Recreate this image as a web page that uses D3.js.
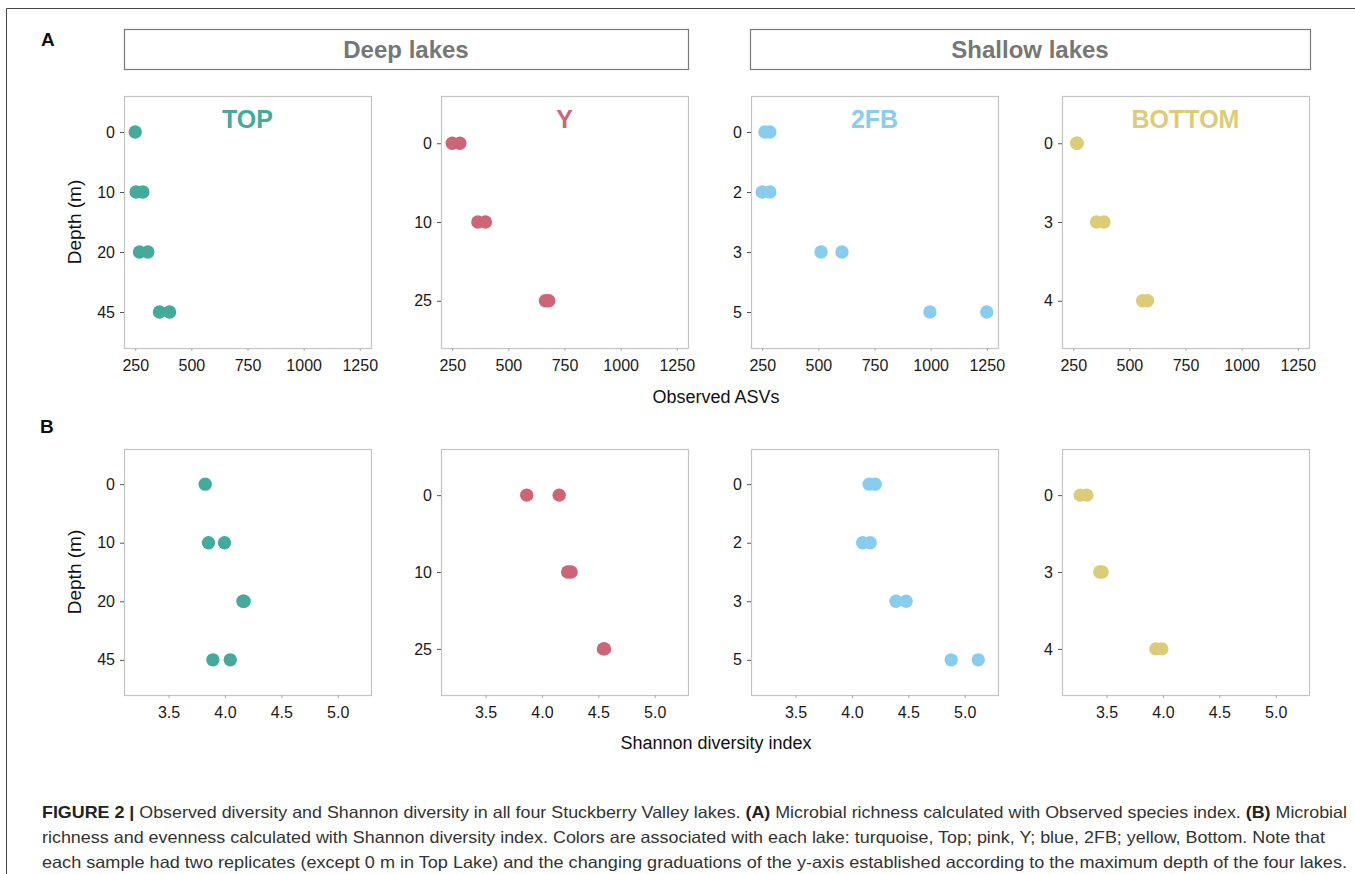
<!DOCTYPE html>
<html><head><meta charset="utf-8">
<script src="https://cdn.jsdelivr.net/npm/d3@7"></script>
<style>
html,body{margin:0;padding:0;background:#fff;}
svg{display:block;font-family:"Liberation Sans",Arial,sans-serif;}
</style></head>
<body>
<svg id="chart" width="1355" height="874"></svg>
<script>
// ---------- DATA ----------
const lakes = ["TOP", "Y", "2FB", "BOTTOM"];
const lakeColors = ["#44AA99", "#CC6677", "#88CCEE", "#DDCC77"];
const groupLabels = ["Deep lakes", "Shallow lakes"];

const topLevels = ["0", "10", "20", "45"];
const topDepth = ["0", "10", "10", "20", "20", "45", "45"];
const topObserved = [250, 254, 284, 269, 306, 358, 403];
const topShannon = [3.825, 3.854, 3.996, 4.16, 4.17, 3.893, 4.047];

const yLevels = ["0", "10", "25"];
const yDepth = ["0", "0", "10", "10", "25", "25"];
const yObserved = [250, 284, 364, 398, 665, 680];
const yShannon = [3.865, 4.153, 4.228, 4.258, 4.545, 4.555];

const fbLevels = ["0", "2", "3", "5"];
const fbDepth = ["0", "0", "2", "2", "3", "3", "5", "5"];
const fbObserved = [262, 284, 250, 284, 512, 605, 997, 1250];
const fbShannon = [4.153, 4.206, 4.095, 4.162, 4.39, 4.48, 4.88, 5.12];

const botLevels = ["0", "3", "4"];
const botDepth = ["0", "0", "3", "3", "4", "4"];
const botObserved = [265, 268, 354, 387, 559, 581];
const botShannon = [3.267, 3.325, 3.44, 3.46, 3.937, 3.99];

const observedTicks = [250, 500, 750, 1000, 1250];
const shannonTicks = [3.5, 4.0, 4.5, 5.0];
const observedDomain = [200, 1300];
const shannonDomain = [3.105, 5.295];

const captionLines = [
  [["FIGURE 2 | ", true], ["Observed diversity and Shannon diversity in all four Stuckberry Valley lakes. ", false], ["(A)", true], [" Microbial richness calculated with Observed species index. ", false], ["(B)", true], [" Microbial", false]],
  [["richness and evenness calculated with Shannon diversity index. Colors are associated with each lake: turquoise, Top; pink, Y; blue, 2FB; yellow, Bottom. Note that", false]],
  [["each sample had two replicates (except 0 m in Top Lake) and the changing graduations of the y-axis established according to the maximum depth of the four lakes.", false]]
];

// ---------- LAYOUT ----------
const svg = d3.select("#chart");
const colX = [124, 441, 751, 1062];
const panelW = 247;
const rows = [
  {top: 96, h: 252, key: "observed", domain: observedDomain, ticks: observedTicks, fmt: d3.format("d"), title: "Observed ASVs", titleY: 397},
  {top: 449, h: 246, key: "shannon", domain: shannonDomain, ticks: shannonTicks, fmt: d3.format(".1f"), title: "Shannon diversity index", titleY: 743}
];
const lakeData = [
  {levels: topLevels, depth: topDepth, observed: topObserved, shannon: topShannon},
  {levels: yLevels, depth: yDepth, observed: yObserved, shannon: yShannon},
  {levels: fbLevels, depth: fbDepth, observed: fbObserved, shannon: fbShannon},
  {levels: botLevels, depth: botDepth, observed: botObserved, shannon: botShannon}
];

// outer frame
svg.append("path").attr("d", "M6.5,874 V8.5 H1355").attr("fill", "none").attr("stroke", "#444").attr("stroke-width", 1);

// panel letters
svg.append("text").attr("x", 41).attr("y", 46).text("A").attr("font-weight", "bold").attr("font-size", 19).attr("fill", "#111");
svg.append("text").attr("x", 40).attr("y", 433).text("B").attr("font-weight", "bold").attr("font-size", 19).attr("fill", "#111");

// group header boxes
const groupBoxes = [[124, 688], [750, 1310]];
groupBoxes.forEach((b, i) => {
  svg.append("rect").attr("x", b[0] + 0.5).attr("y", 29.5).attr("width", b[1] - b[0]).attr("height", 40)
    .attr("fill", "#fff").attr("stroke", "#7a7a7a").attr("stroke-width", 1.2);
  svg.append("text").attr("x", (b[0] + b[1]) / 2).attr("y", 57.5).attr("text-anchor", "middle")
    .attr("font-size", 24).attr("font-weight", "bold").attr("fill", "#767676").text(groupLabels[i]);
});

rows.forEach((row, ri) => {
  lakes.forEach((lake, li) => {
    const d = lakeData[li];
    const x0 = colX[li];
    const x = d3.scaleLinear().domain(row.domain).range([x0, x0 + panelW]);
    const y = d3.scalePoint().domain(d.levels).range([row.top, row.top + row.h]).padding(0.6);
    const g = svg.append("g");

    // panel frame
    g.append("rect").attr("x", x0 + 0.5).attr("y", row.top + 0.5).attr("width", panelW).attr("height", row.h)
      .attr("fill", "none").attr("stroke", "#c4c4c4").attr("stroke-width", 1.2);

    // y axis
    const ya = g.append("g").attr("transform", `translate(${x0},0)`)
      .call(d3.axisLeft(y).tickSize(4).tickPadding(5));
    ya.select(".domain").remove();
    ya.selectAll(".tick line").attr("stroke", "#555");
    ya.selectAll(".tick text").attr("font-size", 16).attr("fill", "#1a1a1a").attr("font-family", "Liberation Sans, Arial, sans-serif");

    // x axis
    const xa = g.append("g").attr("transform", `translate(0,${row.top + row.h})`)
      .call(d3.axisBottom(x).tickValues(row.ticks).tickFormat(row.fmt).tickSize(3).tickPadding(9));
    xa.select(".domain").remove();
    xa.selectAll(".tick line").attr("stroke", "#aaa");
    xa.selectAll(".tick text").attr("font-size", 16).attr("fill", "#1a1a1a").attr("font-family", "Liberation Sans, Arial, sans-serif");

    // points
    const vals = d[row.key];
    g.selectAll("circle.pt").data(vals).enter().append("circle").attr("class", "pt")
      .attr("cx", v => x(v)).attr("cy", (v, i) => y(d.depth[i])).attr("r", 6.7)
      .attr("fill", lakeColors[li]);

    // lake titles (top row only)
    if (ri === 0) {
      g.append("text").attr("x", x0 + panelW / 2).attr("y", 128).attr("text-anchor", "middle")
        .attr("font-size", 25).attr("font-weight", "bold").attr("fill", lakeColors[li]).text(lake);
    }
  });

  // axis titles
  svg.append("text").attr("x", 716).attr("y", row.titleY + 6).attr("text-anchor", "middle")
    .attr("font-size", 18).attr("fill", "#111").text(row.title);
  svg.append("text").attr("transform", `translate(81,${row.top + row.h / 2}) rotate(-90)`)
    .attr("text-anchor", "middle").attr("font-size", 19).attr("fill", "#111").text("Depth (m)");
});

// caption
const capWidths = [1305, 1283, 1305];
captionLines.forEach((parts, i) => {
  const t = svg.append("text").attr("x", 42).attr("y", 818 + i * 25)
    .attr("font-size", 16.5).attr("fill", "#333")
    .attr("font-family", "'Liberation Sans Narrow', 'Liberation Sans', Arial, sans-serif")
    .attr("textLength", capWidths[i]).attr("lengthAdjust", "spacingAndGlyphs");
  parts.forEach(p => {
    t.append("tspan").text(p[0]).attr("font-weight", p[1] ? "bold" : "normal").attr("fill", p[1] ? "#222" : "#333");
  });
});
</script>
</body></html>
